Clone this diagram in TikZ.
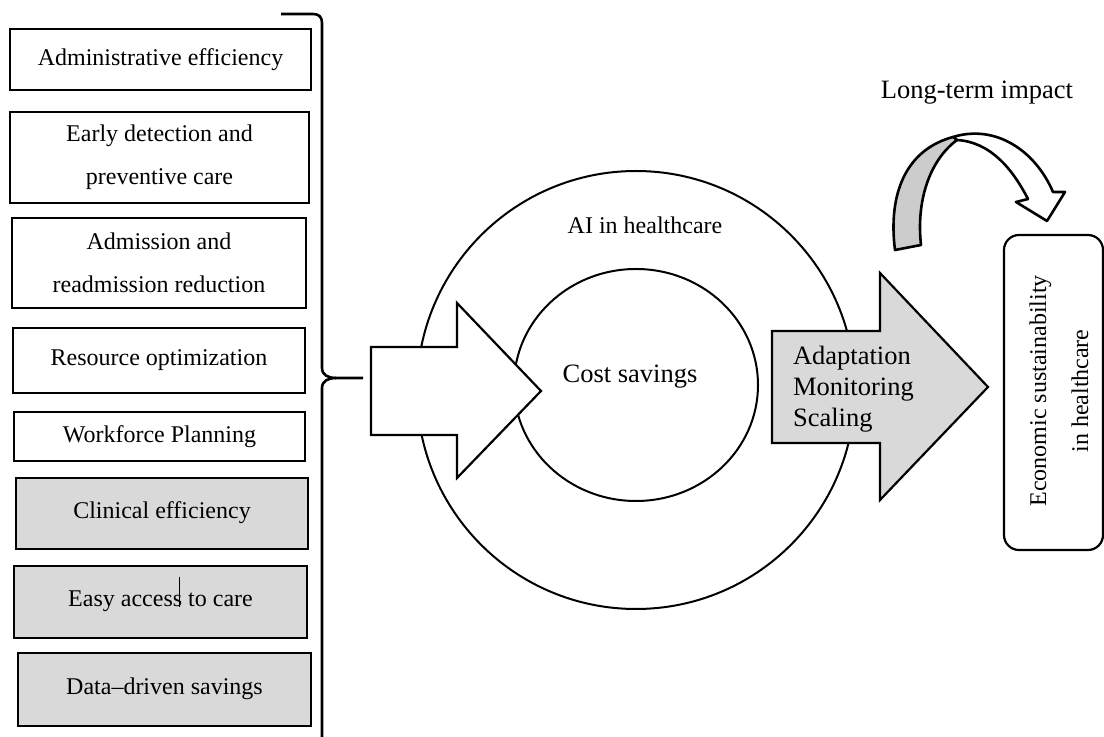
\documentclass[tikz,border=0pt]{standalone}
\usepackage{fontspec}
\setmainfont{Liberation Serif}
\usetikzlibrary{shapes.geometric}
\definecolor{panelgray}{HTML}{D9D9D9}
\definecolor{ribbongray}{HTML}{CCCCCC}
\begin{document}
\begin{tikzpicture}[x=0.5pt,y=-0.5pt,
  factor/.style={draw, line width=1.3pt, align=center, inner sep=0pt,
    font=\fontsize{12}{21.5}\selectfont},
  shaded/.style={factor, fill=panelgray},
  ring/.style={draw, line width=1pt},
  bigarrow/.style={draw, line width=1.1pt, line join=miter},
  label/.style={font=\fontsize{13.25}{15.5}\selectfont},
  smalllabel/.style={font=\fontsize{12}{15}\selectfont}]
\useasboundingbox (0,0) rectangle (1104,737);

% contributing factors (sizes in pt, positions in drawing units)
\node[factor, minimum width=150.5pt, minimum height=30.5pt] (admin) at (160.5,59.5) {\raisebox{1.5pt}{Administrative efficiency}};
\node[factor, minimum width=149.5pt, minimum height=45.5pt] (early) at (159.5,157.5) {Early detection and\\preventive care};
\node[factor, minimum width=147pt, minimum height=45pt] (readm) at (159,263) {Admission and\\readmission reduction};
\node[factor, minimum width=146pt, minimum height=32.5pt] (resource) at (159,360.5) {Resource optimization};
\node[factor, minimum width=145.5pt, minimum height=24.5pt] (workforce) at (159.5,436.5) {Workforce Planning};
\node[shaded, minimum width=146pt, minimum height=35.5pt] (clinical) at (162,513.5) {\raisebox{3pt}{Clinical efficiency}};
\node[shaded, minimum width=146.5pt, minimum height=36pt] (access) at (160.5,602) {\raisebox{3pt}{Easy access to care}};
\node[shaded, minimum width=146.5pt, minimum height=36.5pt] (data) at (164.5,689.5) {\raisebox{3pt}{Data--driven savings}};
\draw[line width=0.5pt] (179,577) -- (179,607);

% grouping brace
\coordinate (bracetop) at (281,14);
\coordinate (bracetip) at (363,378);
\draw[line width=1.3pt]
  (bracetop) -- (313,14) .. controls (319,14) and (322,17) .. (322,23)
  -- (322,368) .. controls (322,375) and (328,378) .. (336,378) -- (bracetip);
\draw[line width=1.3pt]
  (336,378) .. controls (328,378) and (322,381) .. (322,388) -- (322,745);

% AI in healthcare rings
\node[ring, circle, minimum size=219pt, inner sep=0pt] (outer) at (636,390) {};
\node[ring, ellipse, minimum width=122pt, minimum height=116pt, inner sep=0pt] (inner) at (636,385) {};
\node[smalllabel] (ailabel) at (645,225) {AI in healthcare};

% input arrow into the rings
\draw[bigarrow, fill=white] (371,347) -- (457,347) -- (457,303) -- (541,391)
  -- (457,478) -- (457,435) -- (371,435) -- cycle;
\node[label] (costlabel) at (630,377) {Cost savings};

% output arrow
\draw[bigarrow, fill=panelgray] (772,331) -- (880,331) -- (880,273) -- (988,387)
  -- (880,500) -- (880,443) -- (772,443) -- cycle;
\node[label, anchor=west, align=left] (steps) at (786,389) {Adaptation\\Monitoring\\Scaling};

% outcome box
\node[draw, line width=1.1pt, rounded corners=7.5pt, minimum width=49.5pt, minimum height=157.5pt,
  inner sep=0pt] (econ) at (1053.5,392.5) {};
\node[rotate=90, align=center, font=\fontsize{12}{21}\selectfont] (econtext) at (1059,391)
  {Economic sustainability\\in healthcare};

% long-term curved arrow
\node[label] (longterm) at (977,93) {Long-term impact};
\draw[line width=1.3pt, line join=round, fill=white]
  (953,137) .. controls (995,124) and (1035,150) .. (1053,192)
  -- (1065,192) -- (1047,221) -- (1016,202) -- (1028,199)
  .. controls (1012,168) and (990,142) .. (957,140) -- cycle;
\draw[line width=1.3pt, line join=round, fill=ribbongray]
  (895,250) .. controls (888,195) and (905,150) .. (953,137)
  -- (957,140) .. controls (930,160) and (916,200) .. (921,245) -- cycle;
\end{tikzpicture}
\end{document}
